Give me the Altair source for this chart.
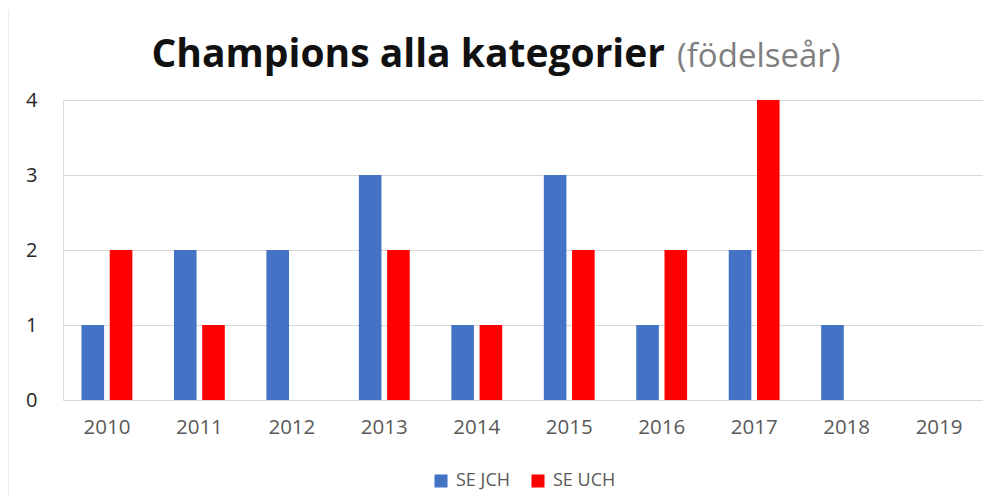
import altair as alt
import pandas as pd

years = ["2010", "2011", "2012", "2013", "2014", "2015", "2016", "2017", "2018", "2019"]
se_jch = [1, 2, 2, 3, 1, 3, 1, 2, 1, 0]
se_uch = [2, 1, 0, 2, 1, 2, 2, 4, 0, 0]
series_names = ["SE JCH", "SE UCH"]
series_colors = ["#4472C4", "#FF0000"]
title_main = "Champions alla kategorier"
title_sub = "(födelseår)"

rows = []
for i, y in enumerate(years):
    rows.append({"year": y, "series": series_names[0], "value": se_jch[i]})
    rows.append({"year": y, "series": series_names[1], "value": se_uch[i]})
df = pd.DataFrame(rows)

FONT = "Open Sans"

bars = alt.Chart(df).mark_bar().encode(
    x=alt.X("year:N", sort=years, title=None,
            scale=alt.Scale(paddingInner=0.45, paddingOuter=0.2),
            axis=alt.Axis(labelAngle=0, labelColor="#595959", labelFontSize=20.5,
                          labelPadding=17, ticks=False, domainColor="#d9d9d9",
                          labelFont=FONT)),
    xOffset=alt.XOffset("series:N", sort=series_names, scale=alt.Scale(paddingInner=0.2)),
    y=alt.Y("value:Q", title=None,
            scale=alt.Scale(domain=[0, 4]),
            axis=alt.Axis(values=[0, 1, 2, 3, 4], format="d", labelColor="#262626",
                          labelFontSize=20, labelPadding=26, ticks=False, domain=False,
                          gridColor="#d9d9d9", labelFont=FONT)),
    color=alt.Color("series:N", sort=series_names,
                    scale=alt.Scale(domain=series_names, range=series_colors),
                    legend=alt.Legend(title=None, orient="none", direction="horizontal",
                                      legendX=369, legendY=372, symbolType="square",
                                      symbolSize=170, labelFontSize=18, labelColor="#595959",
                                      labelFont=FONT, columnPadding=19, symbolStrokeWidth=0,
                                      labelOffset=6)),
)

t1 = alt.Chart(pd.DataFrame({"t": [title_main]})).mark_text(
    align="right", baseline="alphabetic", font=FONT, fontWeight="bold",
    fontSize=39, color="#111111"
).encode(text="t:N", x=alt.value(602), y=alt.value(-33))

t2 = alt.Chart(pd.DataFrame({"t": [title_sub]})).mark_text(
    align="left", baseline="alphabetic", font=FONT, fontSize=33, color="#7f7f7f"
).encode(text="t:N", x=alt.value(614), y=alt.value(-33))

border = alt.Chart(pd.DataFrame({"a": [0]})).mark_rule(color="#d9d9d9").encode(
    x=alt.value(-55), y=alt.value(-90), y2=alt.value(396)
)

chart = alt.layer(border, bars, t1, t2).properties(
    width=920, height=300,
    autosize=alt.AutoSizeParams(type="none"),
    padding={"left": 55, "top": 92, "right": 0, "bottom": 97},
).configure_view(stroke=None).configure(background="white")

chart.save("out.html", embed_options={"renderer": "svg", "actions": False})
